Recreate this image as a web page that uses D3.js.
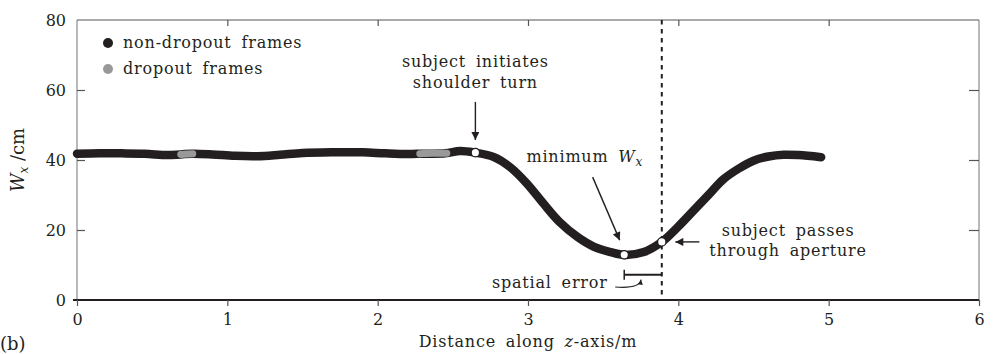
<!DOCTYPE html>
<html lang="en">
<head>
<meta charset="utf-8">
<title>W_x along z-axis</title>
<style>
    html, body { margin: 0; padding: 0; background: #fff; }
    svg text { font-family: "DejaVu Serif", serif; fill: #231f20; }
    .tick text { font-size: 16px; }
    .note { font-size: 16px; letter-spacing: 0.8px; word-spacing: 4px; }
</style>
</head>
<body>
<div id="chart"></div>
<script src="https://d3js.org/d3.v7.min.js"></script>
<script>
// values
var frameZ = [0, 0.15, 0.3, 0.45, 0.6, 0.69, 0.77, 0.9, 1.05, 1.2, 1.35, 1.5, 1.7, 1.9, 2.05, 2.2, 2.3, 2.45, 2.55, 2.65,
              2.77, 2.88, 2.99, 3.10, 3.21, 3.33, 3.44, 3.55, 3.64, 3.77, 3.89, 4.0, 4.1, 4.2, 4.3, 4.4, 4.5, 4.6, 4.7, 4.8, 4.95];
var frameW = [41.8, 41.9, 41.9, 41.8, 41.4, 41.6, 41.8, 41.6, 41.2, 41.1, 41.5, 42.0, 42.2, 42.2, 41.9, 41.7, 41.8, 41.9, 42.6, 42.1,
              40.9, 38.0, 33.4, 27.7, 22.3, 18.0, 15.2, 13.7, 12.9, 13.7, 16.6, 21.0, 25.5, 30.0, 34.5, 37.5, 39.8, 41.0, 41.5, 41.4, 40.8];
var dropZ1 = [0.69, 0.73, 0.77];
var dropW1 = [41.6, 41.7, 41.8];
var dropZ2 = [2.28, 2.37, 2.46];
var dropW2 = [41.8, 41.9, 41.9];
var eventZ = [2.65, 3.64, 3.89];
var eventW = [42.1, 12.9, 16.6];
var apertureZ = 3.89;
var xTicks = [0, 1, 2, 3, 4, 5, 6];
var yTicks = [0, 20, 40, 60, 80];

var w = 993, h = 354;
var mar = {top: 20, right: 14, bottom: 54, left: 77};

var x = d3.scaleLinear().domain([0, 6]).range([mar.left, w - mar.right]);
var y = d3.scaleLinear().domain([0, 80]).range([h - mar.bottom, mar.top]);

var svg = d3.select("#chart").append("svg").attr("width", w).attr("height", h);

// frame
svg.append("line").attr("x1", x(0)).attr("x2", x(0)).attr("y1", y(80)).attr("y2", y(0))
    .attr("stroke", "#8a8a8a").attr("stroke-width", 1.2);
svg.append("line").attr("x1", x(6)).attr("x2", x(6)).attr("y1", y(80)).attr("y2", y(0))
    .attr("stroke", "#8a8a8a").attr("stroke-width", 1.2);
svg.append("line").attr("x1", x(0)).attr("x2", x(6)).attr("y1", y(80)).attr("y2", y(80))
    .attr("stroke", "#555").attr("stroke-width", 1.2);
svg.append("line").attr("x1", x(0) - 4).attr("x2", x(6)).attr("y1", y(0)).attr("y2", y(0))
    .attr("stroke", "#231f20").attr("stroke-width", 2);

// axes
var gx = svg.append("g").attr("transform", "translate(0," + y(0) + ")")
    .call(d3.axisBottom(x).tickValues(xTicks).tickSize(6).tickPadding(8).tickFormat(d3.format("d")));
var gy = svg.append("g").attr("transform", "translate(" + x(0) + ",0)")
    .call(d3.axisLeft(y).tickValues(yTicks).tickSize(-8).tickPadding(11).tickFormat(d3.format("d")));
var gt = svg.append("g").attr("transform", "translate(0," + y(80) + ")")
    .call(d3.axisTop(x).tickValues([1, 2, 3, 4, 5]).tickSize(-6).tickFormat(""));
var gr = svg.append("g").attr("transform", "translate(" + x(6) + ",0)")
    .call(d3.axisRight(y).tickValues([20, 40, 60]).tickSize(-10).tickFormat(""));
[gx, gy, gt, gr].forEach(function(g) {
    g.select(".domain").remove();
    g.selectAll(".tick line").attr("stroke", "#555").attr("stroke-width", 1.2);
    g.selectAll(".tick text").attr("fill", "#231f20").style("font-family", "DejaVu Serif");
});
gy.selectAll(".tick").filter(function(d) { return d === 0 || d === 80; }).select("line").remove();

// axis titles
var xt = svg.append("text").attr("class", "note").attr("x", x(3)).attr("y", 347).attr("text-anchor", "middle");
xt.append("tspan").text("Distance along ");
xt.append("tspan").style("font-style", "italic").text("z");
xt.append("tspan").text("-axis/m");

var yt = svg.append("text").attr("transform", "translate(24," + y(40) + ") rotate(-90)")
    .attr("text-anchor", "middle").style("font-size", "18px");
yt.append("tspan").style("font-style", "italic").text("W");
yt.append("tspan").style("font-style", "italic").style("font-size", "12px").attr("dy", 4).text("x");
yt.append("tspan").attr("dy", -4).text(" /cm");

svg.append("text").attr("x", 0).attr("y", 350).style("font-size", "18px").text("(b)");

// data
var line = d3.line().curve(d3.curveCatmullRom)
    .x(function(d) { return x(d[0]); }).y(function(d) { return y(d[1]); });
svg.append("path").datum(d3.zip(frameZ, frameW)).attr("d", line)
    .attr("fill", "none").attr("stroke", "#231f20").attr("stroke-width", 8.5)
    .attr("stroke-linecap", "round").attr("stroke-linejoin", "round");
[[dropZ1, dropW1], [dropZ2, dropW2]].forEach(function(s) {
    svg.append("path").datum(d3.zip(s[0], s[1])).attr("d", line)
        .attr("fill", "none").attr("stroke", "#999").attr("stroke-width", 7)
        .attr("stroke-linecap", "round");
});

// aperture line
svg.append("line").attr("x1", x(apertureZ)).attr("x2", x(apertureZ)).attr("y1", y(80)).attr("y2", y(0))
    .attr("stroke", "#231f20").attr("stroke-width", 2).attr("stroke-dasharray", "4.5,4.5");

svg.selectAll("circle.ev").data(d3.zip(eventZ, eventW)).enter().append("circle").attr("class", "ev")
    .attr("cx", function(d) { return x(d[0]); }).attr("cy", function(d) { return y(d[1]); })
    .attr("r", 4.2).attr("fill", "#fff").attr("stroke", "#231f20").attr("stroke-width", 1.3);

// legend
svg.append("circle").attr("cx", 108).attr("cy", 43).attr("r", 5).attr("fill", "#231f20");
svg.append("circle").attr("cx", 108).attr("cy", 69).attr("r", 5).attr("fill", "#999");
svg.append("text").attr("class", "note").attr("x", 123).attr("y", 48).text("non-dropout frames");
svg.append("text").attr("class", "note").attr("x", 123).attr("y", 74).text("dropout frames");

// annotations
var defs = svg.append("defs");
defs.append("marker").attr("id", "head").attr("viewBox", "0 0 10 10").attr("refX", 10).attr("refY", 5)
    .attr("markerWidth", 10).attr("markerHeight", 8).attr("markerUnits", "userSpaceOnUse")
    .attr("orient", "auto").append("path").attr("d", "M0,0 L10,5 L0,10 Z").attr("fill", "#231f20");
defs.append("marker").attr("id", "small").attr("viewBox", "0 0 10 10").attr("refX", 10).attr("refY", 5)
    .attr("markerWidth", 6).attr("markerHeight", 5).attr("markerUnits", "userSpaceOnUse")
    .attr("orient", "auto").append("path").attr("d", "M0,0 L10,5 L0,10 Z").attr("fill", "#231f20");

function arrow(z1, w1, z2, w2) {
    svg.append("line").attr("x1", x(z1)).attr("y1", y(w1)).attr("x2", x(z2)).attr("y2", y(w2))
        .attr("stroke", "#231f20").attr("stroke-width", 1.4).attr("marker-end", "url(#head)");
}
arrow(2.65, 56.6, 2.65, 45.7);
arrow(3.43, 35.1, 3.61, 17.1);
arrow(4.14, 16.6, 3.98, 16.6);

svg.append("text").attr("class", "note").attr("x", x(2.65)).attr("y", y(66.6)).attr("text-anchor", "middle").text("subject initiates");
svg.append("text").attr("class", "note").attr("x", x(2.65)).attr("y", y(60.6)).attr("text-anchor", "middle").text("shoulder turn");

var mt = svg.append("text").attr("class", "note").attr("x", x(2.99)).attr("y", y(39.4));
mt.append("tspan").text("minimum ");
mt.append("tspan").style("font-style", "italic").text("W");
mt.append("tspan").style("font-style", "italic").style("font-size", "12px").attr("dy", 4).text("x");

svg.append("text").attr("class", "note").attr("x", x(4.73)).attr("y", y(18.3)).attr("text-anchor", "middle").text("subject passes");
svg.append("text").attr("class", "note").attr("x", x(4.73)).attr("y", y(12.6)).attr("text-anchor", "middle").text("through aperture");

// spatial error bracket
svg.append("line").attr("x1", x(3.64)).attr("x2", x(apertureZ)).attr("y1", y(7.2)).attr("y2", y(7.2))
    .attr("stroke", "#231f20").attr("stroke-width", 2);
svg.append("line").attr("x1", x(3.64)).attr("x2", x(3.64)).attr("y1", y(7.2) - 5).attr("y2", y(7.2) + 5)
    .attr("stroke", "#231f20").attr("stroke-width", 1.5);
svg.append("text").attr("class", "note").attr("x", x(3.53)).attr("y", y(3.4)).attr("text-anchor", "end").text("spatial error");
svg.append("path")
    .attr("d", "M" + x(3.58) + "," + y(3.7) + " C" + x(3.665) + "," + y(3.43) + " " + x(3.745) + "," + y(3.7) + " " + x(3.752) + "," + y(5.8))
    .attr("fill", "none").attr("stroke", "#231f20").attr("stroke-width", 1.1).attr("marker-end", "url(#small)");
</script>
</body>
</html>
